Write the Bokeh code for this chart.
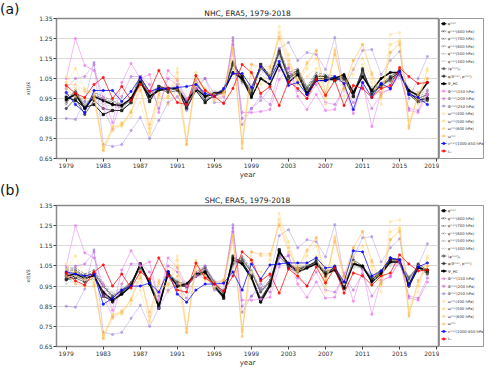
from bokeh.plotting import figure
from bokeh.models import FixedTicker, Range1d, Div
from bokeh.layouts import column, row
from bokeh.embed import file_html
from bokeh.resources import INLINE
from bokeh.core.properties import value

years = list(range(1979, 2019))
x_ticks = [1979, 1983, 1987, 1991, 1995, 1999, 2003, 2007, 2011, 2015, 2019]
y_ticks = [0.65, 0.75, 0.85, 0.95, 1.05, 1.15, 1.25, 1.35]

# ---------- panel (a) NHC ----------
phi_max_a = [.957,.94,.905,.92,.87,.89,.89,.93,1.04,.935,1.01,1.0,1.0,.9,.99,.93,.97,.98,1.12,1.06,.975,1.12,1.06,1.18,1.05,1.08,.98,1.05,1.05,1.04,1.06,.96,1.09,.98,1.01,1.05,1.08,.98,.94,.95]
phi_800_a = [.93,.99,.91,.97,.95,.93,.92,.95,1.06,.97,1.01,.99,1.0,.91,1.03,.95,.96,.99,1.13,1.03,.99,1.11,1.06,1.19,1.07,1.09,1.0,1.07,1.06,1.05,1.04,.97,1.08,.97,1.02,1.05,1.09,.97,.94,.96]
phi_700_a = [.92,1.0,.9,.98,.96,.94,.92,.95,1.06,.98,1.01,1.0,1.01,.92,1.04,.96,.97,1.0,1.14,1.04,1.0,1.12,1.07,1.2,1.08,1.1,1.01,1.08,1.07,1.06,1.05,.98,1.09,.98,1.03,1.04,1.08,.98,.95,.97]
phi_600_a = [.95,.98,.92,.96,.95,.92,.91,.94,1.05,.97,1.0,.99,1.0,.93,1.03,.97,.98,.99,1.12,1.04,1.0,1.1,1.06,1.18,1.06,1.08,1.0,1.06,1.06,1.05,1.05,.98,1.08,.99,1.02,1.04,1.07,.99,.96,.98]
phi_500_a = [.97,.97,.93,.95,.93,.92,.9,.93,1.04,.96,1.0,1.0,1.01,.94,1.02,.97,.98,.99,1.1,1.03,1.01,1.09,1.05,1.16,1.05,1.07,.99,1.05,1.05,1.05,1.04,.99,1.07,1.0,1.02,1.03,1.06,1.0,.97,.99]
phi_400_a = [.99,.96,.94,.94,.92,.91,.9,.92,1.03,.95,.99,1.01,1.02,.95,1.01,.98,.99,.98,1.08,1.02,1.02,1.07,1.04,1.14,1.04,1.06,.99,1.04,1.04,1.04,1.03,1.0,1.06,1.01,1.01,1.02,1.05,1.01,.98,1.0]
phi_p_a = [.94,.98,.9,.96,.94,.92,.91,.94,1.05,.96,1.0,.99,1.0,.92,1.03,.96,.97,.99,1.12,1.04,.99,1.1,1.06,1.18,1.06,1.08,1.0,1.06,1.06,1.05,1.05,.98,1.08,.98,1.02,1.04,1.07,.98,.95,.97]
phi_theta_a = [.9,.95,.87,.94,.9,.89,.89,.93,1.05,.94,1.0,.98,.99,.9,1.0,.94,.96,.98,1.13,1.05,.97,1.11,1.05,1.19,1.06,1.09,.98,1.06,1.06,1.04,1.05,.96,1.1,.97,1.02,1.06,1.09,.97,.93,.94]
psi_hc_a = [.945,.97,.9,.96,.94,.92,.915,.95,1.03,.96,.99,1.0,1.0,.93,1.0,.96,.975,.985,1.08,1.05,.955,1.05,1.02,1.12,1.03,1.07,.97,1.04,1.04,1.05,1.07,.98,1.06,.99,1.05,1.08,1.08,.99,.965,1.03]
v_a = [.98,.92,.88,.99,.99,.99,.935,.985,1.055,.985,1.0,1.0,1.005,1.01,1.02,.975,.96,1.0,1.075,1.075,1.005,1.11,1.05,1.135,1.015,1.03,.97,1.04,1.04,1.06,1.025,.895,1.03,.955,1.025,1.0,1.085,.97,.955,.92]

# ---------- panel (b) SHC ----------
phi_max_b = [.985,1.0,.98,1.01,.9,.875,.92,.96,1.06,.97,.84,1.02,.95,.95,1.0,1.02,.95,.89,1.09,1.07,1.0,.88,.96,1.13,1.05,1.03,1.05,1.07,1.0,1.04,.94,1.07,1.04,.98,1.02,1.08,1.08,.96,1.05,1.02]
phi_800_b = [1.03,1.03,1.0,1.02,.95,.89,.93,.97,1.05,.98,.85,1.02,.96,.95,1.01,1.03,.96,.91,1.07,1.09,1.02,.92,.98,1.12,1.06,1.03,1.04,1.07,1.02,1.04,.95,1.07,1.04,.99,1.02,1.08,1.08,.98,1.05,1.02]
phi_700_b = [1.04,1.04,1.01,1.03,.96,.9,.93,.97,1.04,.98,.86,1.02,.97,.95,1.02,1.04,.96,.92,1.06,1.1,1.03,.93,.98,1.11,1.06,1.04,1.04,1.07,1.02,1.04,.96,1.06,1.04,1.0,1.03,1.07,1.07,.99,1.04,1.01]
phi_600_b = [1.02,1.03,1.0,1.02,.95,.9,.92,.96,1.05,.97,.86,1.01,.97,.96,1.01,1.04,.97,.91,1.06,1.09,1.02,.92,.97,1.1,1.05,1.04,1.05,1.06,1.02,1.04,.96,1.06,1.04,.99,1.02,1.07,1.07,.99,1.05,1.01]
phi_500_b = [.99,1.01,1.0,1.01,.96,.91,.93,.96,1.04,.97,.87,1.01,.97,.96,1.01,1.05,.97,.92,1.05,1.08,1.02,.93,.97,1.09,1.05,1.04,1.05,1.06,1.03,1.03,.96,1.05,1.04,1.0,1.02,1.06,1.06,1.0,1.04,1.01]
phi_400_b = [.96,.99,.99,1.0,.97,.92,.94,.96,1.03,.97,.88,1.0,.98,.97,1.0,1.05,.98,.93,1.04,1.07,1.03,.94,.97,1.08,1.05,1.05,1.05,1.05,1.03,1.03,.97,1.04,1.04,1.01,1.02,1.05,1.05,1.0,1.03,1.0]
phi_p_b = [1.01,1.02,1.0,1.01,.95,.9,.93,.96,1.04,.97,.86,1.01,.97,.96,1.01,1.04,.97,.91,1.06,1.08,1.02,.92,.97,1.1,1.05,1.04,1.05,1.06,1.02,1.04,.96,1.06,1.04,.99,1.02,1.07,1.07,.99,1.05,1.01]
phi_theta_b = [.98,.99,.97,.99,.91,.87,.91,.95,1.06,.96,.84,1.02,.95,.95,1.0,1.01,.94,.89,1.1,1.06,.99,.89,.96,1.13,1.04,1.02,1.04,1.08,1.0,1.05,.94,1.08,1.05,.98,1.02,1.09,1.08,.95,1.06,1.03]
psi_hc_b = [1.0,1.01,.99,1.0,.92,.88,.91,.95,1.06,.96,.85,1.01,.95,.96,1.01,1.02,.95,.9,1.08,1.06,.99,.87,.95,1.12,1.06,1.02,1.04,1.06,1.01,1.03,.94,1.06,1.05,.97,1.01,1.07,1.07,.95,1.04,1.03]
v_b = [1.02,1.01,1.0,1.01,.86,.89,.93,.95,.95,.965,.92,1.02,.91,.87,.93,.96,.96,.965,1.02,.93,1.06,.985,1.055,1.06,1.065,1.065,1.065,1.09,1.04,1.045,.97,1.125,1.12,1.0,1.025,1.09,1.08,.955,1.045,1.065]

# ---------- series drawn identically in both panels ----------
Phi150 = [1.05,1.25,1.115,1.09,.955,.83,1.03,1.125,1.05,1.07,.88,1.09,1.04,.95,1.0,.99,.95,.96,1.22,.88,.88,.885,.895,1.045,1.105,.96,.895,.97,.89,.895,1.015,.875,1.03,.81,.98,.995,1.08,.89,.88,.97]
Phi200 = [1.0,1.05,1.06,1.12,.9,.8,.96,1.06,1.06,1.02,.9,1.05,1.02,.94,1.02,1.05,.97,.97,1.24,.85,.9,.96,.92,1.09,1.1,.99,.95,1.02,.93,.92,1.0,.93,1.01,.9,.97,1.0,1.07,.9,.89,.99]
Phi250 = [.85,.845,.935,1.13,.72,.71,.72,.79,.855,.75,.84,.93,.96,.89,1.0,1.05,.93,.93,1.255,.82,.9,.94,1.0,1.2,1.23,1.14,1.18,1.17,1.095,1.255,1.0,1.095,1.19,1.195,1.07,1.14,1.185,.95,1.05,1.16]
omega400 = [1.06,1.0,.98,.99,.7,.81,.82,.86,.93,.77,.93,.96,1.1,.73,1.03,1.0,.95,.97,1.17,.74,1.02,.98,1.05,1.31,1.15,1.0,1.06,1.1,.92,1.2,.96,1.07,1.12,1.03,.92,1.27,1.28,.82,.92,1.1]
omega500 = [1.03,1.1,1.0,.97,.69,.81,.81,.89,1.0,.78,.96,.95,1.08,.72,1.08,.98,.94,.97,1.2,.72,1.08,1.02,1.08,1.28,1.17,1.02,1.1,1.15,.95,1.18,.99,1.1,1.15,1.05,.95,1.22,1.24,.84,.95,1.09]
omega600 = [1.02,1.02,.99,.96,.71,.8,.83,.88,1.02,.8,.98,.96,1.05,.74,1.06,1.0,.96,.98,1.18,.73,1.12,1.1,1.1,1.26,1.14,1.03,1.12,1.19,.97,1.19,1.0,1.14,1.22,1.08,.97,1.18,1.23,.81,.97,1.05]
omega_min = [1.0,.96,.95,.95,.69,.79,.82,.88,.99,.82,.97,.92,1.0,.72,1.05,.99,.97,.98,1.2,.70,1.12,1.11,1.11,1.25,1.12,1.04,1.13,1.19,.98,1.17,1.0,1.14,1.22,1.07,.96,1.18,1.22,.8,.98,1.05]
I_m = [1.015,.975,.955,1.02,1.055,.95,1.01,.94,1.02,.985,1.09,1.0,.93,.92,1.065,.99,.96,.925,1.0,1.12,1.08,.975,1.01,.915,1.035,1.0,.95,1.045,.965,1.04,.915,1.015,1.0,.955,1.0,1.015,1.105,1.06,1.025,1.03]

labels = ["φᵐᵃˣ", "φᵐᵃˣ(800 hPa)", "φᵐᵃˣ(700 hPa)", "φᵐᵃˣ(600 hPa)", "φᵐᵃˣ(500 hPa)",
          "φᵐᵃˣ(400 hPa)", "⟨φᵐᵃˣ⟩ₚ", "φ(ϑᵐᵃˣ, pᵐᵃˣ)", "Ψ_HC", "Φᵐᵃˣ(150 hPa)",
          "Φᵐᵃˣ(200 hPa)", "Φᵐᵃˣ(250 hPa)", "ωᵐⁱⁿ(400 hPa)", "ωᵐⁱⁿ(500 hPa)",
          "ωᵐⁱⁿ(600 hPa)", "ωᵐⁱⁿ", "vᵐᵃˣ(1000-850 hPa)", "Iₘ"]

# style: color, line width, dash, alpha, marker
styles = [
    ("#000000", 1.0, "solid", 0.9, "square"),
    ("#333333", 0.7, "3 1", 0.8, "x"),
    ("#555555", 0.7, "3 1", 0.75, "x"),
    ("#747474", 0.7, "3 1", 0.7, "x"),
    ("#969696", 0.7, "3 1", 0.7, "x"),
    ("#b8b8b8", 0.7, "3 1", 0.7, "x"),
    ("#5a5a5a", 0.8, "solid", 0.8, "circle"),
    ("#2a2a2a", 0.8, "solid", 0.8, "circle"),
    ("#000000", 1.5, "solid", 0.95, "circle"),
    ("#ee82ee", 0.7, "solid", 0.8, "circle"),
    ("#ba55d3", 0.7, "solid", 0.5, "circle"),
    ("#9370db", 0.7, "solid", 0.5, "circle"),
    ("#ffe6a8", 0.7, "solid", 0.8, "circle"),
    ("#ffd766", 0.7, "solid", 0.55, "circle"),
    ("#ffc266", 0.7, "solid", 0.5, "circle"),
    ("#ffab40", 0.7, "solid", 0.45, "circle"),
    ("#0000ff", 0.9, "solid", 0.8, "circle"),
    ("#ff0000", 0.9, "solid", 0.8, "circle"),
]

FONT = "DejaVu Sans"
MAIN_W, LEG_W, DIV_W = 418, 45, 21


def make_panel(title, series, height, top, bottom):
    p = figure(width=MAIN_W, height=height, x_range=Range1d(1977.95, 2019.2),
               y_range=Range1d(0.65, 1.35), output_backend="svg", toolbar_location=None,
               min_border_left=35, min_border_right=1, min_border_top=top,
               min_border_bottom=bottom, background_fill_color="white",
               border_fill_color="white", margin=0)
    p.title.text = title
    p.title.align = "center"
    p.title.text_font = FONT
    p.title.text_font_size = "7.5px"
    p.title.text_font_style = "normal"
    p.title.text_color = "#222222"
    p.title.standoff = 2
    p.xgrid.visible = False
    p.ygrid.grid_line_color = "#d9d9d9"
    p.ygrid.grid_line_width = 1.2
    p.outline_line_color = "#8a8a8a"
    p.outline_line_width = 1.5
    p.xaxis.ticker = FixedTicker(ticks=x_ticks)
    p.yaxis.ticker = FixedTicker(ticks=y_ticks)
    for ax in (p.xaxis[0], p.yaxis[0]):
        ax.axis_line_color = None
        ax.major_tick_line_color = "#444444"
        ax.major_tick_out = 3
        ax.major_tick_in = 0
        ax.minor_tick_line_color = None
        ax.major_label_text_font = FONT
        ax.major_label_text_font_size = "6px"
        ax.major_label_text_color = "#333333"
        ax.major_label_standoff = 1
        ax.axis_label_text_font = FONT
        ax.axis_label_text_font_style = "normal"
        ax.axis_label_text_color = "#333333"
    p.xaxis.axis_label = "year"
    p.xaxis.axis_label_text_font_size = "7px"
    p.xaxis.axis_label_standoff = 0
    p.yaxis.axis_label = "x(t)/x̄"
    p.yaxis.axis_label_text_font_size = "5px"
    p.yaxis.axis_label_standoff = 5

    for vals, (col, lw, dash, alpha, mk) in zip(series, styles):
        p.line(years, vals, line_color=col, line_width=lw, line_dash=dash, line_alpha=alpha)
        p.scatter(years, vals, marker=mk, size=2.4 if mk != "x" else 2.8,
                  line_color=col, fill_color=col, line_alpha=alpha, fill_alpha=alpha,
                  line_width=0.6)
    return p


def make_legend(height, top, bottom):
    n = len(labels)
    lg = figure(width=LEG_W, height=height, x_range=Range1d(0, LEG_W),
                y_range=Range1d(-(n - 1) - 1.0, 0.7), output_backend="svg",
                toolbar_location=None, min_border_left=0, min_border_right=0,
                min_border_top=top, min_border_bottom=bottom, margin=0,
                background_fill_color="white", border_fill_color="white")
    lg.axis.visible = False
    lg.grid.visible = False
    lg.outline_line_color = "#9a9a9a"
    lg.outline_line_width = 1
    ys = [-i for i in range(n)]
    for i, (col, lw, dash, alpha, mk) in enumerate(styles):
        lg.line([1.5, 7.0], [ys[i], ys[i]], line_color=col, line_width=lw, line_dash=dash,
                line_alpha=alpha)
        lg.scatter([4.25], [ys[i]], marker=mk, size=2.4 if mk != "x" else 2.8,
                   line_color=col, fill_color=col, line_alpha=alpha, fill_alpha=alpha,
                   line_width=0.6)
    lg.text([8.3] * n, ys, text=labels, text_font=value(FONT), text_font_size="3.8px",
            text_baseline="middle", text_color="#333333")
    return lg


def letter_div(letter, height):
    return Div(text=letter, width=DIV_W, height=height, margin=0,
               styles={"font-size": "14px", "font-family": FONT, "color": "#111111",
                       "line-height": "19px", "white-space": "nowrap",
                       "overflow": "visible"})


series_a = [phi_max_a, phi_800_a, phi_700_a, phi_600_a, phi_500_a, phi_400_a, phi_p_a,
            phi_theta_a, psi_hc_a, Phi150, Phi200, Phi250, omega400, omega500, omega600,
            omega_min, v_a, I_m]
series_b = [phi_max_b, phi_800_b, phi_700_b, phi_600_b, phi_500_b, phi_400_b, phi_p_b,
            phi_theta_b, psi_hc_b, Phi150, Phi200, Phi250, omega400, omega500, omega600,
            omega_min, v_b, I_m]

HA, HB = 181, 188
pa = make_panel("NHC, ERA5, 1979-2018", series_a, HA, 18, 22)
pb = make_panel("SHC, ERA5, 1979-2018", series_b, HB, 24, 22)
la = make_legend(HA, 18, 22)
lb = make_legend(HB, 24, 22)

layout = column(row(letter_div("(a)", HA), pa, la, spacing=0),
                row(letter_div("(b)", HB), pb, lb, spacing=0), spacing=0)
open("out.html", "w").write(file_html(layout, INLINE))
